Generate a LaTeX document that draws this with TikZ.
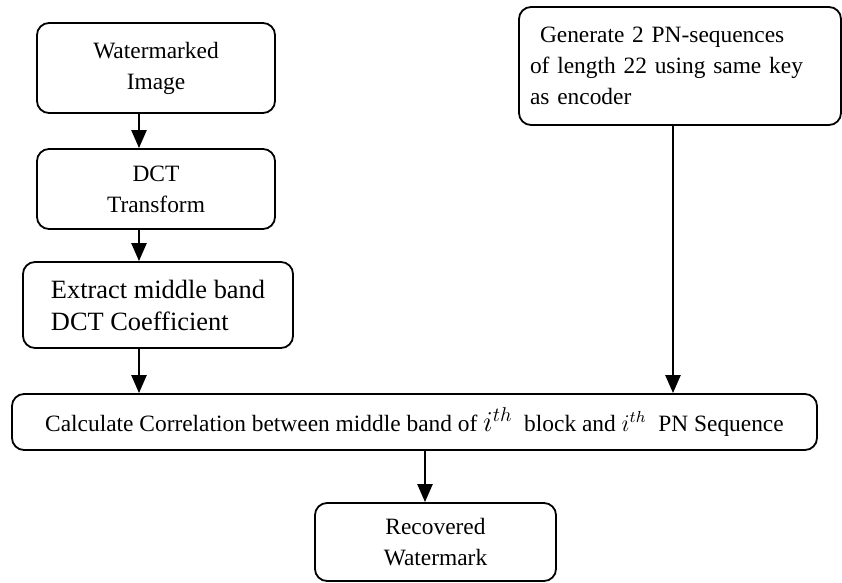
\documentclass[tikz,border=0pt]{standalone}
\usepackage{fontspec}
\setmainfont{Liberation Serif}
\usetikzlibrary{arrows.meta}

\begin{document}
\begin{tikzpicture}[x=0.5pt,y=-0.5pt,>={Triangle[length=9pt,width=7.5pt]},
  box/.style={draw,rounded corners=6pt,line width=0.9pt,align=center,inner sep=0pt,
    font=\fontsize{11.7}{15.5}\selectfont},
  flow/.style={->,line width=1.2pt}]

\useasboundingbox (0,0) rectangle (842,583);

% ---- Left column ----
\node[box,minimum width=119pt,minimum height=45pt] (wmimg) at (156,68) {Watermarked\\Image};
\node[box,minimum width=119pt,minimum height=40pt] (dct) at (156,189) {DCT\\Transform};
\node[box,minimum width=135pt,minimum height=43pt,align=left,
  font=\fontsize{13.2}{16}\selectfont] (extract) at (158,305) {Extract middle band\\DCT Coefficient};

% ---- Right column ----
\node[box,minimum height=59pt,text width=150pt,inner xsep=5.5pt,align=left] (pnseq) at (680,66)
  {\hspace*{5pt}Generate 2 PN-sequences\\of length 22 using same key\\as encoder};

% ---- Correlation and output ----
\node[box,minimum width=402.5pt,minimum height=28pt] (corr) at (414.5,422)
  {Calculate Correlation between middle band of {\Large$i^{th}$}\ \ block and $i^{th}$\ \ PN Sequence};
\node[box,minimum width=120.5pt,minimum height=39pt] (recov) at (435.5,542) {Recovered\\Watermark};

% ---- Arrows ----
\coordinate (colL) at (139,0);
\coordinate (colM) at (425,0);
\coordinate (colR) at (673,0);

\draw[flow] (colL |- wmimg.south) -- (colL |- dct.north);
\draw[flow] (colL |- dct.south) -- (colL |- extract.north);
\draw[flow] (colL |- extract.south) -- (colL |- corr.north);
\draw[flow] (colR |- pnseq.south) -- (colR |- corr.north);
\draw[flow] (colM |- corr.south) -- (colM |- recov.north);

\end{tikzpicture}
\end{document}
